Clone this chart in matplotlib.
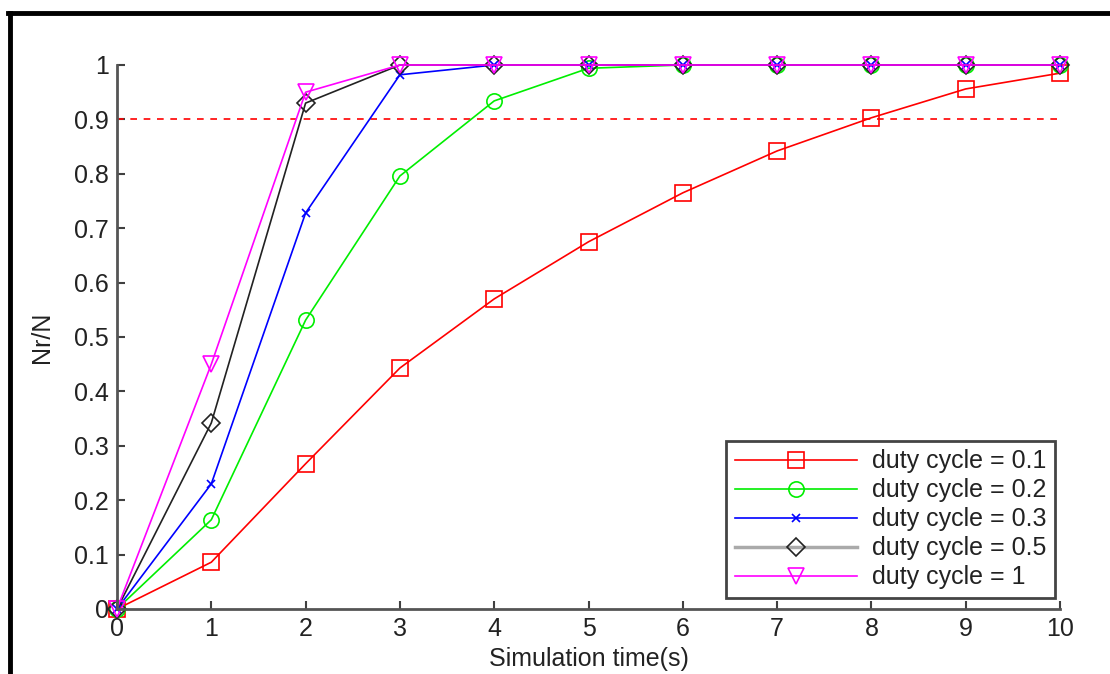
import matplotlib
matplotlib.use("Agg")
import matplotlib.pyplot as plt
from matplotlib.lines import Line2D

plt.rcParams['font.family'] = ['Liberation Sans', 'DejaVu Sans']

time_s = [0, 1, 2, 3, 4, 5, 6, 7, 8, 9, 10]
dc_01 = [0, 0.086, 0.267, 0.443, 0.570, 0.675, 0.765, 0.842, 0.903, 0.956, 0.985]
dc_02 = [0, 0.164, 0.531, 0.796, 0.934, 0.994, 1.0, 1.0, 1.0, 1.0, 1.0]
dc_03 = [0, 0.230, 0.728, 0.982, 1.0, 1.0, 1.0, 1.0, 1.0, 1.0, 1.0]
dc_05 = [0, 0.342, 0.930, 1.0, 1.0, 1.0, 1.0, 1.0, 1.0, 1.0, 1.0]
dc_1 = [0, 0.450, 0.950, 1.0, 1.0, 1.0, 1.0, 1.0, 1.0, 1.0, 1.0]
threshold = 0.9
labels = ['duty cycle = 0.1', 'duty cycle = 0.2', 'duty cycle = 0.3',
          'duty cycle = 0.5', 'duty cycle = 1']
xticks = list(range(0, 11))
yticks = [0, 0.1, 0.2, 0.3, 0.4, 0.5, 0.6, 0.7, 0.8, 0.9, 1]
ytick_labels = ['0', '0.1', '0.2', '0.3', '0.4', '0.5', '0.6', '0.7', '0.8', '0.9', '1']

fig = plt.figure(figsize=(11.1, 6.74), dpi=100)
ax = fig.add_axes([117/1110, 1-609/674, (1060-117)/1110, (609-65)/674])

series = [dc_01, dc_02, dc_03, dc_05, dc_1]
colors = ['#ff0000', '#00ee00', '#0000ff', '#222222', '#ff00ff']
markers = ['s', 'o', 'x', 'D', 'v']
msizes = [12, 11, 6, 9, 12]

ax.plot([time_s[0], time_s[-1]], [threshold, threshold], '--', color='#ff0000',
        lw=1.2, dashes=(4, 4))
for y, c, m, ms, lab in zip(series, colors, markers, msizes, labels):
    ax.plot(time_s, y, color=c, marker=m, markersize=ms, markerfacecolor='none',
            markeredgecolor=c, markeredgewidth=1.2, lw=1.2, label=lab, clip_on=False)

ax.set_xlim(0, 10)
ax.set_ylim(0, 1)
ax.set_xticks(xticks)
ax.set_yticks(yticks)
ax.set_yticklabels(ytick_labels)
ax.tick_params(direction='in', length=6, width=1.5, color='#404040',
               labelsize=18, labelcolor='#222222', pad=6)
for s in ['top', 'right']:
    ax.spines[s].set_visible(False)
for s in ['left', 'bottom']:
    ax.spines[s].set_color('#555555')
    ax.spines[s].set_linewidth(2)

ax.set_xlabel('Simulation time(s)', fontsize=18, color='#222222', labelpad=4)
ax.set_ylabel('Nr/N', fontsize=18, color='#222222', labelpad=14)

leg = ax.legend(loc='lower right', bbox_to_anchor=(0.995, 0.02), borderaxespad=0,
                fontsize=18, fancybox=False, framealpha=1, edgecolor='#444444',
                handlelength=4.9, labelspacing=0.2, borderpad=0.35, handletextpad=0.6)
leg.get_frame().set_linewidth(2)
lh = leg.get_lines()
lh[3].set_color('#aaaaaa')
lh[3].set_markeredgecolor('#222222')
lh[3].set_linewidth(2.5)
for t in leg.get_texts():
    t.set_color('#222222')

fig.add_artist(Line2D([10/1110, 10/1110], [0, 1-13/674], color='black', lw=3.5,
                      transform=fig.transFigure))
fig.add_artist(Line2D([8/1110, 1], [1-13/674, 1-13/674], color='black', lw=3.5,
                      transform=fig.transFigure))

fig.savefig('out.png', dpi=100)
